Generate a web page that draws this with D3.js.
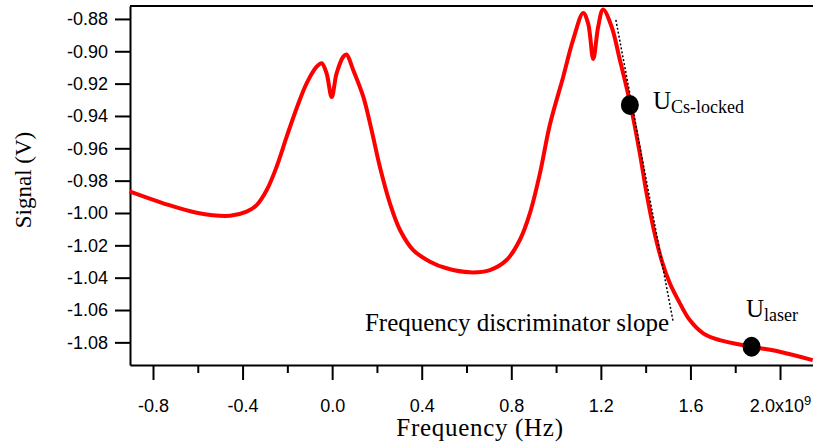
<!DOCTYPE html>
<html><head><meta charset="utf-8">
<script src="https://cdn.jsdelivr.net/npm/d3@7"></script>
<style>
html,body{margin:0;padding:0;background:#fff;}
svg{display:block;}
</style></head><body>
<svg id="chart" width="813" height="446"></svg>
<script>
// Frequency in units of 1e9 Hz, signal in V
const freq = [-0.905,-0.754,-0.605,-0.456,-0.382,-0.337,-0.292,-0.248,-0.203,-0.1585,-0.114,-0.069,-0.047,-0.025,-0.002,0.020,0.050,0.064,0.094,0.139,0.176,0.213,0.258,0.303,0.362,0.437,0.511,0.615,0.7045,0.779,0.838,0.883,0.928,0.972,1.032,1.076,1.121,1.143,1.166,1.188,1.210,1.248,1.285,1.3295,1.374,1.404,1.4335,1.471,1.508,1.553,1.597,1.657,1.731,1.873,1.999,2.146];
const signal = [-0.9867,-0.9940,-0.9998,-1.0017,-0.9992,-0.9951,-0.9858,-0.9714,-0.9528,-0.9352,-0.9198,-0.9095,-0.9074,-0.9136,-0.9283,-0.9136,-0.9033,-0.9020,-0.9116,-0.9281,-0.9487,-0.9714,-0.9940,-1.0105,-1.0229,-1.0301,-1.0342,-1.0367,-1.0353,-1.0291,-1.0167,-1.0002,-0.9755,-0.9456,-0.9157,-0.8930,-0.8763,-0.8827,-0.9047,-0.8848,-0.8741,-0.8848,-0.9054,-0.9313,-0.9631,-0.9878,-1.0085,-1.0291,-1.0435,-1.0559,-1.0662,-1.0744,-1.0786,-1.0827,-1.0858,-1.0910];
const xTicksMajor = [-0.8,-0.4,0.0,0.4,0.8,1.2,1.6,2.0];
const xTicksMinor = [-0.6,-0.2,0.2,0.6,1.0,1.4,1.8];
const yTicks = [-0.88,-0.90,-0.92,-0.94,-0.96,-0.98,-1.00,-1.02,-1.04,-1.06,-1.08];
const slopeFreq = [1.267, 1.523];
const slopeSignal = [-0.8806, -1.0674];
const slopeLabel = "Frequency discriminator slope";
const markerFreq = [1.3295, 1.873];
const markerSignal = [-0.9332, -1.0827];
const markerMain = ["U", "U"];
const markerSub = ["Cs-locked", "laser"];
const xTitle = "Frequency (Hz)";
const yTitle = "Signal (V)";

const svg = d3.select("#chart");
const L = 130, R = 813, T = 6, B = 365;
const x = d3.scaleLinear().domain([-0.9027, 2.1473]).range([L, R]);
const y = d3.scaleLinear().domain([-1.0940, -0.8720]).range([B, T]);

const sans = "'Liberation Sans', Arial, sans-serif";
const serif = "'Liberation Serif', 'Times New Roman', serif";
const hy = f => d => f(d).replace("\u2212", "-");

// Top frame line
svg.append("line").attr("x1", L).attr("x2", R).attr("y1", T).attr("y2", T)
  .attr("stroke", "#000").attr("stroke-width", 2);

// Y axis
const yAxis = svg.append("g").attr("transform", `translate(${L},0)`)
  .call(d3.axisLeft(y).tickValues(yTicks).tickFormat(hy(d3.format(".2f"))).tickSize(15).tickSizeOuter(0).tickPadding(7));
yAxis.select(".domain").attr("stroke-width", 2);
yAxis.selectAll(".tick line").attr("stroke-width", 2);
yAxis.selectAll("text").attr("font-family", sans).attr("font-size", 18).attr("fill", "#000");

// X axis minor ticks
const xMinor = svg.append("g").attr("transform", `translate(0,${B})`)
  .call(d3.axisBottom(x).tickValues(xTicksMinor).tickFormat("").tickSize(8).tickSizeOuter(0));
xMinor.select(".domain").remove();
xMinor.selectAll(".tick line").attr("stroke-width", 2);

// X axis major
const xAxis = svg.append("g").attr("transform", `translate(0,${B})`)
  .call(d3.axisBottom(x).tickValues(xTicksMajor).tickFormat(hy(d3.format(".1f"))).tickSize(15).tickSizeOuter(0).tickPadding(19));
xAxis.select(".domain").attr("stroke-width", 2);
xAxis.selectAll(".tick line").attr("stroke-width", 2);
xAxis.selectAll("text").attr("font-family", sans).attr("font-size", 18).attr("fill", "#000");
xAxis.selectAll(".tick").filter(d => d === 2.0).select("text")
  .text(null)
  .call(t => {
    t.append("tspan").text("2.0x10");
    t.append("tspan").attr("dy", "-0.55em").attr("font-size", 13).text("9");
  });

// Signal curve
const line = d3.line().x((d, i) => x(freq[i])).y((d, i) => y(signal[i])).curve(d3.curveCatmullRom.alpha(0.5));
svg.append("path").datum(signal).attr("d", line)
  .attr("fill", "none").attr("stroke", "#ff0000").attr("stroke-width", 4)
  .attr("stroke-linejoin", "round");

// Discriminator slope dotted line
svg.append("line")
  .attr("x1", x(slopeFreq[0])).attr("y1", y(slopeSignal[0]))
  .attr("x2", x(slopeFreq[1])).attr("y2", y(slopeSignal[1]))
  .attr("stroke", "#000").attr("stroke-width", 1.5).attr("stroke-dasharray", "2,2");

svg.append("text").attr("x", 669).attr("y", 331).attr("text-anchor", "end")
  .attr("font-family", serif).attr("font-size", 25).attr("fill", "#000").text(slopeLabel);

// Markers
svg.selectAll("ellipse.mk").data(markerFreq).enter().append("ellipse").attr("class", "mk")
  .attr("cx", (d) => x(d)).attr("cy", (d, i) => y(markerSignal[i]))
  .attr("rx", 9).attr("ry", 10).attr("fill", "#000");

const labPos = [[653, 108.5], [746, 316.5]];
markerMain.forEach((m, i) => {
  const t = svg.append("text").attr("x", labPos[i][0]).attr("y", labPos[i][1])
    .attr("font-family", serif).attr("font-size", 25).attr("fill", "#000");
  t.append("tspan").text(m);
  t.append("tspan").attr("font-size", 18).attr("dy", 4).text(markerSub[i]);
});

// Axis titles
svg.append("text").attr("x", 480).attr("y", 436).attr("text-anchor", "middle")
  .attr("font-family", serif).attr("font-size", 25).attr("letter-spacing", 0.7).attr("fill", "#000").text(xTitle);
svg.append("text").attr("transform", "translate(31,180) rotate(-90)").attr("text-anchor", "middle")
  .attr("font-family", serif).attr("font-size", 23).attr("fill", "#000").text(yTitle);
</script>
</body></html>
